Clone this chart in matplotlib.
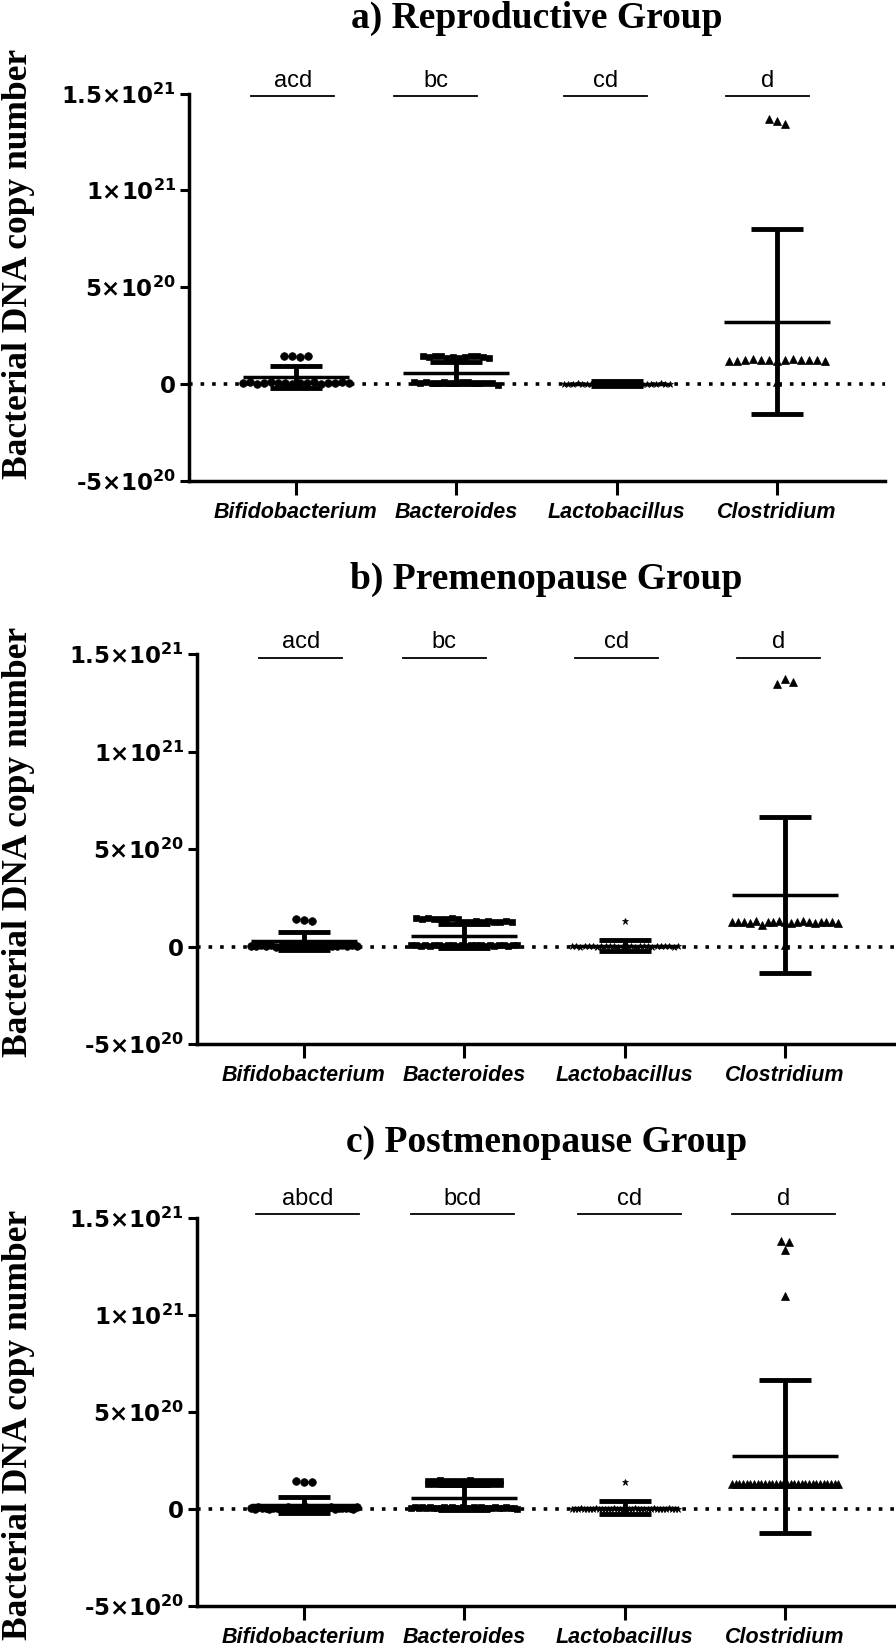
import matplotlib
matplotlib.use('Agg')
import matplotlib.pyplot as plt
import numpy as np

plt.rcParams['mathtext.default'] = 'regular'

# ---------------- data (values in units of 1e20 copies) ----------------
categories = ['Bifidobacterium', 'Bacteroides', 'Lactobacillus', 'Clostridium']
ytick_values = [-5, 0, 5, 10, 15]
ytick_labels = ['-5×10$^{20}$', '0', '5×10$^{20}$', '1×10$^{21}$', '1.5×10$^{21}$']
titles = ['a) Reproductive Group', 'b) Premenopause Group', 'c) Postmenopause Group']
ylabel = 'Bacterial DNA copy number'

# Panel a
bif_a = [0.04, 0.08, 0.02, 0.06, 0.10, 0.03, 0.05, 0.00, 0.07, 0.04, 0.09, 0.02, 0.06, 0.05, 0.08, 0.03,
         1.45, 1.42, 1.40, 1.43]
bac_a = [1.45, 1.38, 1.42, 1.44, 1.35, 1.40, 1.32, 1.38, 1.42, 1.45, 1.40, 1.36,
         0.08, 0.05, 0.10, 0.06, 0.04, 0.09, 0.07, 0.05, 0.08, 0.10, 0.06, 0.04, 0.07, 0.05, -0.05]
lac_a = [0.01, 0.02, 0.00, 0.03, 0.01, 0.02, 0.00, 0.01, 0.03, 0.02, 0.01, 0.00,
         0.02, 0.01, 0.03, 0.00, 0.02, 0.01, 0.02, 0.00, 0.01, 0.03, 0.02, 0.01]
clo_a = [13.7, 13.6, 13.45,
         1.20, 1.20, 1.22, 1.28, 1.26, 1.22, 1.20, 1.22, 1.28, 1.26, 1.24, 1.26, 1.20,
         0.10]
mean_a = [0.37, 0.58, 0.02, 3.21]
sd_a = [0.56, 0.57, 0.12, 4.79]
letters_a = ['acd', 'bc', 'cd', 'd']

# Panel b
bif_b = [1.40, 1.38, 1.33,
         0.05, 0.02, 0.08, 0.03, 0.06, 0.00, 0.04, 0.07, 0.02, 0.05, 0.09,
         0.03, 0.06, 0.01, 0.04, 0.08, 0.05, 0.02, 0.07, 0.03, 0.06, 0.04]
bac_b = [1.44, 1.42, 1.45, 1.40, 1.43, 1.41, 1.44, 1.42,
         1.28, 1.26, 1.30, 1.27, 1.29, 1.25, 1.28, 1.30, 1.26,
         0.06, 0.09, 0.04, 0.08, 0.05, 0.10, 0.07, 0.03, 0.06, 0.09, 0.05, 0.08,
         0.04, 0.07, 0.10, 0.06, 0.03, 0.08, 0.05, 0.09, 0.07, 0.04, 0.06, 0.08]
lac_b = [1.33,
         0.01, 0.02, 0.00, 0.03, 0.01, 0.02, 0.00, 0.01, 0.03, 0.02, 0.01, 0.00, 0.02,
         0.01, 0.03, 0.00, 0.02, 0.01, 0.02, 0.00, 0.01, 0.03, 0.02, 0.01, 0.00, 0.02]
clo_b = [13.45, 13.7, 13.55,
         1.25, 1.28, 1.25, 1.22, 1.30, 1.08, 1.25, 1.28, 1.30, 1.25, 1.22, 1.28, 1.30,
         1.25, 1.22, 1.25, 1.28, 1.25, 1.22,
         0.10]
mean_b = [0.27, 0.53, 0.05, 2.63]
sd_b = [0.45, 0.60, 0.30, 4.00]
letters_b = ['acd', 'bc', 'cd', 'd']

# Panel c
bif_c = [1.42, 1.38, 1.40,
         0.05, 0.02, 0.08, 0.03, 0.06, 0.00, 0.04, 0.07, 0.02, 0.05, 0.09, 0.03, 0.06, 0.01, 0.04,
         0.08, 0.05, 0.02, 0.07, 0.03, 0.06, 0.04, 0.09, 0.01, 0.05, 0.07, 0.03, 0.06, 0.02, 0.08]
bac_c = [1.46, 1.44, 1.47, 1.43, 1.45, 1.46, 1.44, 1.47, 1.43, 1.45, 1.46, 1.44, 1.45,
         1.30, 1.28, 1.31, 1.29, 1.30, 1.27, 1.31, 1.29, 1.28, 1.30, 1.31, 1.29, 1.28,
         0.06, 0.09, 0.04, 0.08, 0.05, 0.10, 0.07, 0.03, 0.06, 0.09, 0.05, 0.08, 0.04, 0.07, 0.10,
         0.06, 0.03, 0.08, 0.05, 0.09, 0.07, 0.04, 0.06, 0.08, 0.05, 0.07, 0.09, 0.04, 0.06, 0.02]
lac_c = [1.40,
         0.01, 0.02, 0.00, 0.03, 0.01, 0.02, 0.00, 0.01, 0.03, 0.02, 0.01, 0.00, 0.02, 0.01, 0.03,
         0.00, 0.02, 0.01, 0.02, 0.00, 0.01, 0.03, 0.02, 0.01, 0.00, 0.02, 0.01, 0.03, 0.02, 0.00,
         0.01, 0.02, 0.03, 0.01, 0.02, 0.00]
clo_c = [13.8, 13.75, 13.35, 11.0,
         1.29, 1.27, 1.30, 1.28, 1.31, 1.29, 1.27, 1.30, 1.28, 1.29, 1.31, 1.27, 1.30, 1.28, 1.29,
         1.30, 1.27, 1.29, 1.31, 1.28, 1.30, 1.29, 1.27, 1.30, 1.28, 1.29, 1.31, 1.28, 1.30, 1.29]
mean_c = [0.22, 0.58, 0.07, 2.72]
sd_c = [0.42, 0.65, 0.33, 3.94]
letters_c = ['abcd', 'bcd', 'cd', 'd']

# ---------------- layout / style ----------------
W, H = 896, 1648
PX_PER_CAT = 160.4
markers = ['o', 's', '*', '^']
msizes = [5.5, 5.0, 4.5, 5.5]
spacing_px = [8, 6, 5, 8]
row_tol = [0.1, 0.1, 0.1, 0.3]
MAXHALF_PX = 53

panels = [
    dict(groups=[bif_a, bac_a, lac_a, clo_a], mean=mean_a, sd=sd_a, letters=letters_a,
         rect=(189, 93.5, 885, 480.7), title_base=28, ylab_y=264,
         ann_x=[-0.02, 0.87, 1.93, 2.94], ann_half=0.26, ann_y=14.85),
    dict(groups=[bif_b, bac_b, lac_b, clo_b], mean=mean_b, sd=sd_b, letters=letters_b,
         rect=(197, 654, 896, 1044), title_base=589, ylab_y=842,
         ann_x=[-0.02, 0.875, 1.95, 2.96], ann_half=0.26, ann_y=14.82),
    dict(groups=[bif_c, bac_c, lac_c, clo_c], mean=mean_c, sd=sd_c, letters=letters_c,
         rect=(197, 1218, 896, 1606), title_base=1152, ylab_y=1425,
         ann_x=[0.02, 0.99, 2.03, 2.99], ann_half=0.32, ann_y=15.2),
]


def swarm_offsets(vals, tol, d, maxhalf):
    vals = np.asarray(vals, dtype=float)
    order = np.argsort(-vals, kind='stable')
    clusters, cur = [], [order[0]]
    for a, b in zip(order[:-1], order[1:]):
        if vals[a] - vals[b] <= tol:
            cur.append(b)
        else:
            clusters.append(cur)
            cur = [b]
    clusters.append(cur)
    off = np.zeros(len(vals))
    for c in clusters:
        c = sorted(c)
        n = len(c)
        if n > 1:
            w = min((n - 1) * d / 2.0, maxhalf)
            off[c] = np.linspace(-w, w, n)
    return off


fig = plt.figure(figsize=(W / 100, H / 100), dpi=100)

for k, p in enumerate(panels):
    l, t, r, b = p['rect']
    ax = fig.add_axes([l / W, 1 - b / H, (r - l) / W, (b - t) / H])
    left_lim = -0.667
    right_lim = left_lim + (r - l) / PX_PER_CAT
    ax.set_xlim(left_lim, right_lim)
    ax.set_ylim(-5, 15)

    ax.axhline(0, color='black', lw=2.6, ls=(0, (1, 2.2)), zorder=1)

    for i, vals in enumerate(p['groups']):
        off = swarm_offsets(vals, row_tol[i], spacing_px[i] / PX_PER_CAT, MAXHALF_PX / PX_PER_CAT)
        ax.plot(i + off, vals, ls='none', marker=markers[i], ms=msizes[i],
                color='black', mec='black', mew=0.5, zorder=3)
        m, s = p['mean'][i], p['sd'][i]
        ax.hlines(m, i - 0.33, i + 0.33, color='black', lw=2.5, zorder=4)
        ax.vlines(i, m - s, m + s, color='black', lw=3.5, zorder=4)
        ax.hlines([m - s, m + s], i - 0.162, i + 0.162, color='black', lw=3.5, zorder=4)

    for i, lab in enumerate(p['letters']):
        cx = p['ann_x'][i]
        ax.plot([cx - p['ann_half'], cx + p['ann_half']], [p['ann_y'], p['ann_y']],
                color='black', lw=1.3, clip_on=False, zorder=5)
        ax.text(cx, p['ann_y'] + 0.22, lab, ha='center', va='bottom', fontsize=17,
                family='Liberation Sans', clip_on=False)

    for sp in ['top', 'right']:
        ax.spines[sp].set_visible(False)
    for sp in ['left', 'bottom']:
        ax.spines[sp].set_linewidth(2.5)

    ax.set_yticks(ytick_values)
    ax.set_yticklabels(ytick_labels, fontsize=16.5, fontweight='bold', family='DejaVu Sans')
    ax.set_xticks(range(len(categories)))
    ax.set_xticklabels(categories, fontsize=15.5, fontweight='bold', fontstyle='italic',
                       family='Liberation Sans')
    ax.tick_params(axis='y', length=6.5, width=2.2, pad=3)
    ax.tick_params(axis='x', length=10, width=2.2, pad=5)

    fig.text(((l + r) / 2) / W, 1 - p['title_base'] / H, titles[k],
             ha='center', va='baseline', fontsize=27, fontweight='bold', family='Liberation Serif')
    fig.text(19 / W, 1 - p['ylab_y'] / H, ylabel, rotation=90, ha='center', va='center',
             fontsize=25.5, fontweight='bold', family='Liberation Serif')

fig.savefig('out.png', dpi=100)
